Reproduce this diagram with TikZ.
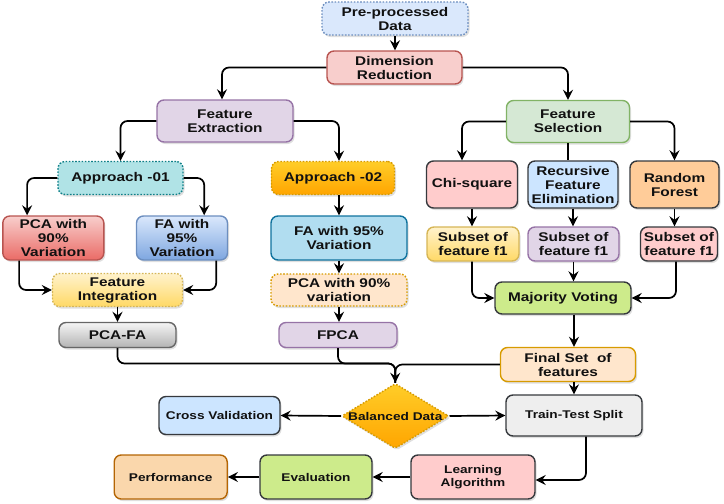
\documentclass[tikz,border=0pt]{standalone}
\usepackage{fontspec}
\setmainfont{Liberation Sans}[FakeStretch=1.22]
\usetikzlibrary{shapes.geometric,shadows,arrows.meta,calc}
\definecolor{txt}{HTML}{111111}
\definecolor{blueF}{HTML}{DAE8FC}\definecolor{blueD}{HTML}{6C8EBF}
\definecolor{redF}{HTML}{F8CECC}\definecolor{redD}{HTML}{B85450}\definecolor{redG}{HTML}{EA6B66}
\definecolor{purF}{HTML}{E1D5E7}\definecolor{purD}{HTML}{9673A6}
\definecolor{grnF}{HTML}{D5E8D4}\definecolor{grnD}{HTML}{82B366}
\definecolor{tealF}{HTML}{B0E3E6}\definecolor{tealD}{HTML}{0E8088}
\definecolor{orT}{HTML}{FFCD28}\definecolor{orB}{HTML}{FFA500}\definecolor{orD}{HTML}{D79B00}
\definecolor{pinkF}{HTML}{FFCCCC}\definecolor{darkD}{HTML}{36393D}
\definecolor{ltblF}{HTML}{CCE5FF}\definecolor{peachF}{HTML}{FFCC99}
\definecolor{blueG}{HTML}{7EA6E0}
\definecolor{cyanF}{HTML}{B1DDF0}\definecolor{cyanD}{HTML}{10739E}
\definecolor{yelT}{HTML}{FFF2CC}\definecolor{yelB}{HTML}{FFD966}\definecolor{yelD}{HTML}{D6B656}
\definecolor{crmF}{HTML}{FFE6CC}
\definecolor{limeF}{HTML}{CDEB8B}
\definecolor{gryT}{HTML}{F5F5F5}\definecolor{gryB}{HTML}{B3B3B3}\definecolor{gryD}{HTML}{666666}
\definecolor{gryF}{HTML}{EEEEEE}
\definecolor{perfF}{HTML}{FAD7AC}\definecolor{perfD}{HTML}{B46504}
\begin{document}
\begin{tikzpicture}[x=1pt,y=-1pt,
 bx/.style={rectangle, rounded corners=7pt, line width=1.4pt, align=center, inner sep=1pt, text=txt,
   font=\bfseries\fontsize{12.6}{14}\selectfont,
   drop shadow={shadow xshift=1.5pt,shadow yshift=-2pt,opacity=0.25}},
 sm/.style={font=\bfseries\fontsize{11.2}{13}\selectfont},
 dotb/.style={dash pattern=on 1.6pt off 1.6pt},
 arr/.style={line width=1.7pt, -{Stealth[length=10pt,width=10pt,inset=3.5pt]}, rounded corners=7pt},
 ln/.style={line width=1.7pt, rounded corners=7pt}]
\useasboundingbox (0,0) rectangle (724,504);
% nodes
\node[bx, dotb, fill=blueF, draw=blueD, minimum width=146pt, minimum height=33pt] (pre) at (395,18.5) {Pre-processed\\Data};
\node[bx, fill=redF, draw=redD, minimum width=135pt, minimum height=33pt] (dim) at (394.5,67.5) {Dimension\\Reduction};
\node[bx, fill=purF, draw=purD, minimum width=136pt, minimum height=42pt] (fe) at (225,121) {Feature\\Extraction};
\node[bx, fill=grnF, draw=grnD, minimum width=123pt, minimum height=42pt] (fs) at (568,121.5) {Feature\\Selection};
\node[bx, dotb, fill=tealF, draw=tealD, minimum width=125pt, minimum height=33pt] (a1) at (120.5,178) {Approach -01};
\node[bx, dotb, top color=orT, bottom color=orB, draw=orD, minimum width=123pt, minimum height=33pt] (a2) at (333,178) {Approach -02};
\node[bx, fill=pinkF, draw=darkD, minimum width=91pt, minimum height=47pt] (chi) at (472,184.5) {Chi-square};
\node[bx, fill=ltblF, draw=darkD, minimum width=90pt, minimum height=47pt] (rfe) at (573,184.5) {Recursive\\Feature\\Elimination};
\node[bx, fill=peachF, draw=darkD, minimum width=89pt, minimum height=47pt] (rf) at (674.5,184.5) {Random\\Forest};
\node[bx, top color=redF, bottom color=redG, draw=redD, minimum width=101pt, minimum height=44pt] (pca90) at (53.3,238) {PCA with\\90\%\\Variation};
\node[bx, top color=blueF, bottom color=blueG, draw=blueD, minimum width=91pt, minimum height=44pt] (fa95) at (182,238) {FA with\\95\%\\Variation};
\node[bx, fill=cyanF, draw=cyanD, minimum width=136pt, minimum height=44pt] (fam) at (339,238) {FA with 95\%\\Variation};
\node[bx, top color=yelT, bottom color=yelB, draw=yelD, minimum width=92pt, minimum height=34pt] (sub1) at (473,244) {Subset of\\feature f1};
\node[bx, fill=purF, draw=purD, minimum width=91pt, minimum height=34pt] (sub2) at (573.5,244) {Subset of\\feature f1};
\node[bx, fill=pinkF, draw=darkD, minimum width=77pt, minimum height=34pt] (sub3) at (679,244) {Subset of\\feature f1};
\node[bx, dotb, top color=yelT, bottom color=yelB, draw=yelD, minimum width=130pt, minimum height=33pt] (fi) at (117.5,290) {Feature\\Integration};
\node[bx, dotb, fill=crmF, draw=orD, minimum width=136pt, minimum height=32pt] (pcad) at (339,290) {PCA with 90\%\\variation};
\node[bx, fill=limeF, draw=darkD, minimum width=136pt, minimum height=32pt] (mv) at (563,298) {Majority Voting};
\node[bx, top color=gryT, bottom color=gryB, draw=gryD, minimum width=117pt, minimum height=25pt] (pcafa) at (117.5,335) {PCA-FA};
\node[bx, fill=purF, draw=purD, minimum width=118pt, minimum height=25pt] (fpca) at (338,335) {FPCA};
\node[bx, fill=crmF, draw=orD, minimum width=135pt, minimum height=34pt] (final) at (568,364.5) {Final Set \ of\\features};
\node[bx, diamond, dotb, top color=orT, bottom color=orB, draw=orD, minimum width=107pt, minimum height=65pt, inner sep=0pt, rounded corners=2pt] (bd) at (395.3,416) {};
\node[sm, text=txt] (bdt) at (bd.center) {Balanced Data};
\node[bx, sm, fill=ltblF, draw=darkD, minimum width=121pt, minimum height=38pt] (cv) at (219.5,415.5) {Cross Validation};
\node[bx, sm, fill=gryF, draw=darkD, minimum width=136pt, minimum height=41pt] (tts) at (574,415.5) {Train-Test Split};
\node[bx, sm, fill=pinkF, draw=darkD, minimum width=124pt, minimum height=44pt] (la) at (473,477) {Learning\\Algorithm};
\node[bx, sm, fill=limeF, draw=darkD, minimum width=112pt, minimum height=44pt] (ev) at (316,477) {Evaluation};
\node[bx, sm, fill=perfF, draw=perfD, minimum width=113pt, minimum height=44pt] (perf) at (170.7,477) {Performance};
\coordinate (mg) at (395.3,363.5);
% connectors
\draw[arr] (pre.south) -- (pre.south |- dim.north);
\draw[arr] (dim.west) -| ($(fe.north)+(-3,0)$);
\draw[arr] (dim.east) -| (fs.north);
\draw[arr] (fe.west) -| (a1.north);
\draw[arr] (fe.east) -| (fam.north |- a2.north);
\draw[arr] (a1.west) -| ($(pca90.north west)+(25,0)$);
\draw[arr] (a1.east) -| ($(fa95.north east)+(-24,0)$);
\draw[arr] ($(pca90.south west)+(17,0)$) |- (fi.west);
\draw[arr] ($(fa95.south east)+(-12,0)$) |- (fi.east);
\draw[arr] (fi.south) -- (pcafa.north);
\draw[arr] (fam.north |- a2.south) -- (fam.north);
\draw[arr] (fam.south) -- (pcad.north);
\draw[arr] (pcad.south) -- (pcad.south |- fpca.north);
\draw[arr] (fs.west) -| ($(chi.north)+(-10,0)$);
\draw[ln] (fs.south) -- (fs.south |- rfe.north);
\draw[arr] (fs.east) -| (rf.north);
\draw[arr] (chi.south) -- (chi.south |- sub1.north);
\draw[arr] (rfe.south) -- (rfe.south |- sub2.north);
\draw[arr] (rf.south) -- (rf.south |- sub3.north);
\draw[arr] ($(sub1.south)+(-1,0)$) |- (mv.west);
\draw[arr] (sub2.south) -- (sub2.south |- mv.north);
\draw[arr] ($(sub3.south)+(-3,0)$) |- (mv.east);
\draw[arr] (tts.north |- mv.south) -- (tts.north |- final.north);
\draw[arr] (tts.north |- final.south) -- (tts.north);
\draw[ln] (pcafa.south) |- (mg) -- (bd.north);
\draw[ln] (fpca.south) |- (mg) -- (bd.north);
\draw[arr] (final.west) -| (bd.north);
\draw[arr] (bd.west) -- (cv.east);
\draw[arr] (bd.east) -- (tts.west);
\draw[arr] ($(tts.south)+(12,0)$) |- ($(la.east)+(0,3)$);
\draw[arr] (la.west) -- (ev.east);
\draw[arr] (ev.west) -- (perf.east);
\end{tikzpicture}
\end{document}
